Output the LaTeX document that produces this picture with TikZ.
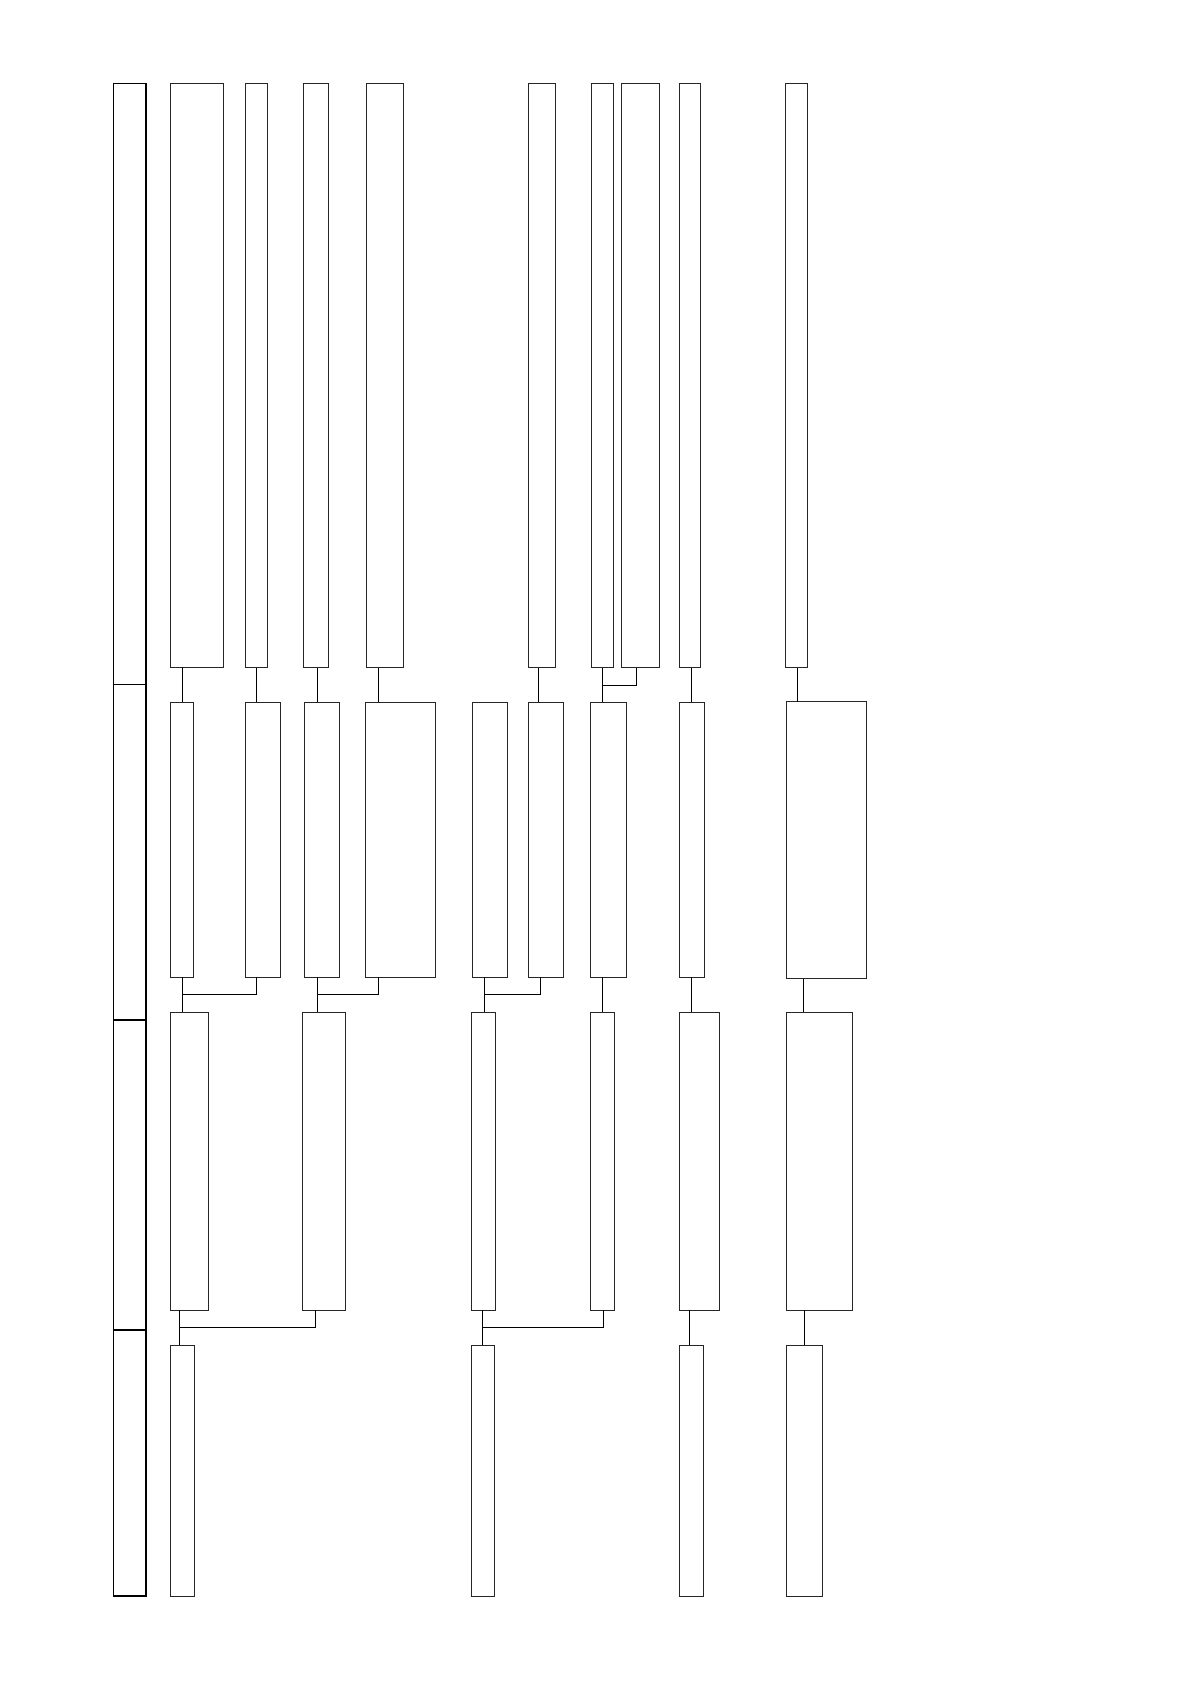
\documentclass[tikz,border=0pt]{standalone}
\begin{document}
\begin{tikzpicture}[x=0.5pt,y=-0.5pt,
  bx/.style={draw=black!85,line width=0.5pt,rectangle,inner sep=0pt,outer sep=0pt},
  frame/.style={draw=black,line width=0.8pt,rectangle,inner sep=0pt,outer sep=0pt},
  link/.style={draw=black,line width=0.5pt}]
\useasboundingbox (0,0) rectangle (1190,1682);
\newcommand\bx[6][bx]{\node[#1,minimum width={(#5-#3)*0.5pt},minimum height={(#6-#4)*0.5pt}] (#2) at ({(#3+#5)/2},{(#4+#6)/2}) {};}
% left frame
\bx[frame]{F1}{113.5}{83.5}{146}{684.3}
\bx[frame]{F2}{113.5}{684.3}{146}{1020}
\bx[frame]{F3}{113.5}{1020}{146}{1330}
\bx[frame]{F4}{113.5}{1330}{146}{1596}
% row 1
\bx{A1}{170.3}{83.5}{223.3}{667}
\bx{B1}{245.3}{83.5}{267}{667.5}
\bx{C1}{303.7}{83.5}{328.3}{667.5}
\bx{D1}{366.3}{83.5}{403.3}{667.5}
\bx{G1}{528.3}{83.5}{555.3}{667.5}
\bx{H1}{591}{83.5}{613}{667.5}
\bx{I1}{621.3}{83.5}{659}{667.5}
\bx{J1}{679}{83.5}{700.7}{667.5}
\bx{K1}{785.7}{83.5}{807.3}{667.5}
% row 2
\bx{A2}{170.3}{702.3}{193.7}{977.3}
\bx{B2}{245.3}{702.3}{280.3}{977.3}
\bx{C2}{304}{702.3}{339.3}{977.3}
\bx{D2}{365.7}{702.3}{435.7}{977.3}
\bx{E2}{472.5}{702.3}{507.5}{977.3}
\bx{G2}{528.5}{702.3}{563.5}{977.3}
\bx{H2}{590.5}{702.3}{626}{977.3}
\bx{J2}{679.2}{702.3}{704.8}{977.3}
\bx{K2}{786.5}{701.7}{866.7}{978.5}
% row 3
\bx{A3}{170.3}{1012.3}{208.3}{1310}
\bx{C3}{302}{1012.3}{345.3}{1310}
\bx{E3}{471}{1012.3}{495.3}{1310}
\bx{H3}{590.5}{1012.3}{614.5}{1310}
\bx{J3}{679}{1012.3}{719.3}{1310}
\bx{K3}{786.5}{1012.3}{852.5}{1310}
% row 4
\bx{A4}{170.3}{1345}{194}{1596}
\bx{E4}{471}{1345}{494}{1596}
\bx{J4}{679}{1345}{703.3}{1596}
\bx{K4}{786.7}{1345}{822.3}{1596}
% connector columns and bus levels
\coordinate (xA) at (182.3,0);
\coordinate (xAb) at (179.5,0);
\coordinate (xB) at (256.3,0);
\coordinate (xC) at (317.7,0);
\coordinate (xCb) at (315.3,0);
\coordinate (xD) at (378.3,0);
\coordinate (xE) at (484.3,0);
\coordinate (xEb) at (482.3,0);
\coordinate (xG) at (538.5,0);
\coordinate (xGb) at (540.3,0);
\coordinate (xH) at (602.3,0);
\coordinate (xHb) at (603.3,0);
\coordinate (xI) at (636.3,0);
\coordinate (xJ) at (691.3,0);
\coordinate (xJb) at (689.3,0);
\coordinate (xK) at (797.3,0);
\coordinate (xKa) at (803.5,0);
\coordinate (xKb) at (804.3,0);
\coordinate (yHI) at (0,685.2);
\coordinate (y23) at (0,994.2);
\coordinate (y34) at (0,1327.3);
% row 1 -> row 2
\draw[link] (A1.south -| xA) -- (A2.north -| xA);
\draw[link] (B1.south -| xB) -- (B2.north -| xB);
\draw[link] (C1.south -| xC) -- (C2.north -| xC);
\draw[link] (D1.south -| xD) -- (D2.north -| xD);
\draw[link] (G1.south -| xG) -- (G2.north -| xG);
\draw[link] (H1.south -| xH) -- (H2.north -| xH);
\draw[link] (I1.south -| xI) -- (xI |- yHI) -- (xH |- yHI);
\draw[link] (J1.south -| xJ) -- (J2.north -| xJ);
\draw[link] (K1.south -| xK) -- (K2.north -| xK);
% row 2 -> row 3
\draw[link] (A2.south -| xA) -- (A3.north -| xA);
\draw[link] (B2.south -| xB) -- (xB |- y23) -- (xA |- y23);
\draw[link] (C2.south -| xC) -- (C3.north -| xC);
\draw[link] (D2.south -| xD) -- (xD |- y23) -- (xC |- y23);
\draw[link] (E2.south -| xE) -- (E3.north -| xE);
\draw[link] (G2.south -| xGb) -- (xGb |- y23) -- (xE |- y23);
\draw[link] (H2.south -| xH) -- (H3.north -| xH);
\draw[link] (J2.south -| xJ) -- (J3.north -| xJ);
\draw[link] (K2.south -| xKa) -- (K3.north -| xKa);
% row 3 -> row 4
\draw[link] (A3.south -| xAb) -- (A4.north -| xAb);
\draw[link] (C3.south -| xCb) -- (xCb |- y34) -- (xAb |- y34);
\draw[link] (E3.south -| xEb) -- (E4.north -| xEb);
\draw[link] (H3.south -| xHb) -- (xHb |- y34) -- (xEb |- y34);
\draw[link] (J3.south -| xJb) -- (J4.north -| xJb);
\draw[link] (K3.south -| xKb) -- (K4.north -| xKb);
\end{tikzpicture}
\end{document}
